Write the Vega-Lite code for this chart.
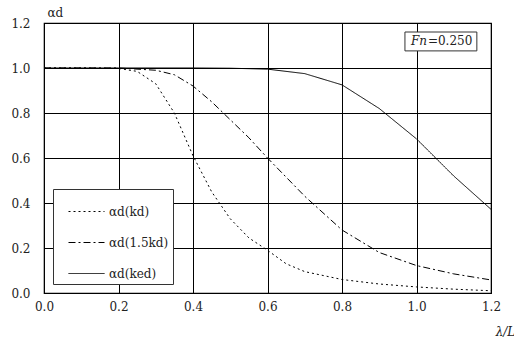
{
  "$schema": "https://vega.github.io/schema/vega-lite/v6.json",
  "width": 447,
  "height": 270,
  "autosize": {"type": "none"},
  "padding": {"left": 44, "top": 23, "right": 23, "bottom": 50},
  "background": "white",
  "config": {
    "font": "DejaVu Serif",
    "view": {"stroke": "black", "strokeWidth": 1.2},
    "axis": {
      "gridColor": "black", "gridOpacity": 1, "gridWidth": 1,
      "domain": false, "ticks": false, "labelFlush": false,
      "labelFont": "DejaVu Serif", "labelFontSize": 12, "labelColor": "#222",
      "titleFont": "DejaVu Serif", "titleFontWeight": "normal", "titleFontSize": 12, "titleColor": "#222"
    }
  },
  "data": {"values": [
    {"x": 0.0, "y": 1.0, "s": "kd"}, {"x": 0.1, "y": 1.0, "s": "kd"}, {"x": 0.2, "y": 0.998, "s": "kd"},
    {"x": 0.25, "y": 0.985, "s": "kd"}, {"x": 0.3, "y": 0.93, "s": "kd"}, {"x": 0.35, "y": 0.8, "s": "kd"},
    {"x": 0.4, "y": 0.61, "s": "kd"}, {"x": 0.45, "y": 0.45, "s": "kd"}, {"x": 0.5, "y": 0.33, "s": "kd"},
    {"x": 0.55, "y": 0.245, "s": "kd"}, {"x": 0.6, "y": 0.19, "s": "kd"}, {"x": 0.65, "y": 0.13, "s": "kd"},
    {"x": 0.7, "y": 0.095, "s": "kd"}, {"x": 0.8, "y": 0.06, "s": "kd"}, {"x": 0.9, "y": 0.04, "s": "kd"},
    {"x": 1.0, "y": 0.027, "s": "kd"}, {"x": 1.1, "y": 0.017, "s": "kd"}, {"x": 1.2, "y": 0.01, "s": "kd"},
    {"x": 0.0, "y": 1.0, "s": "1.5kd"}, {"x": 0.1, "y": 1.0, "s": "1.5kd"}, {"x": 0.2, "y": 1.0, "s": "1.5kd"},
    {"x": 0.3, "y": 0.99, "s": "1.5kd"}, {"x": 0.35, "y": 0.97, "s": "1.5kd"}, {"x": 0.4, "y": 0.92, "s": "1.5kd"},
    {"x": 0.45, "y": 0.85, "s": "1.5kd"}, {"x": 0.5, "y": 0.77, "s": "1.5kd"}, {"x": 0.55, "y": 0.69, "s": "1.5kd"},
    {"x": 0.6, "y": 0.6, "s": "1.5kd"}, {"x": 0.7, "y": 0.43, "s": "1.5kd"}, {"x": 0.8, "y": 0.28, "s": "1.5kd"},
    {"x": 0.9, "y": 0.18, "s": "1.5kd"}, {"x": 1.0, "y": 0.122, "s": "1.5kd"}, {"x": 1.1, "y": 0.085, "s": "1.5kd"},
    {"x": 1.2, "y": 0.058, "s": "1.5kd"},
    {"x": 0.0, "y": 1.0, "s": "ked"}, {"x": 0.2, "y": 1.0, "s": "ked"}, {"x": 0.4, "y": 1.0, "s": "ked"},
    {"x": 0.5, "y": 0.999, "s": "ked"}, {"x": 0.6, "y": 0.995, "s": "ked"}, {"x": 0.7, "y": 0.975, "s": "ked"},
    {"x": 0.8, "y": 0.925, "s": "ked"}, {"x": 0.9, "y": 0.82, "s": "ked"}, {"x": 1.0, "y": 0.685, "s": "ked"},
    {"x": 1.1, "y": 0.52, "s": "ked"}, {"x": 1.2, "y": 0.372, "s": "ked"}
  ]},
  "layer": [
    {
      "mark": {"type": "line", "color": "black", "strokeWidth": 1},
      "encoding": {
        "x": {"field": "x", "type": "quantitative", "scale": {"domain": [0, 1.2], "nice": false},
          "axis": {"values": [0, 0.2, 0.4, 0.6, 0.8, 1.0, 1.2], "format": ".1f", "labelPadding": 8,
            "title": "λ/L", "titleFontStyle": "italic", "titleX": 461, "titleY": 33, "titleAlign": "center"}},
        "y": {"field": "y", "type": "quantitative", "scale": {"domain": [0, 1.2], "nice": false},
          "axis": {"values": [0, 0.2, 0.4, 0.6, 0.8, 1.0, 1.2], "format": ".1f", "labelPadding": 14,
            "title": "αd", "titleAngle": 0, "titleX": 3, "titleY": -11, "titleAlign": "left", "titleBaseline": "middle"}},
        "strokeDash": {"field": "s", "type": "nominal",
          "scale": {"domain": ["kd", "1.5kd", "ked"], "range": [[2, 3], [7, 3, 2, 3], [1, 0]]},
          "legend": {"title": null, "orient": "none", "legendX": 9, "legendY": 166,
            "labelExpr": "'αd(' + datum.label + ')\u2007\u2007'",
            "symbolType": "stroke", "symbolSize": 1296, "symbolStrokeColor": "black", "symbolStrokeWidth": 1,
            "symbolOffset": 11, "labelOffset": 4,
            "labelFont": "DejaVu Serif", "labelFontSize": 12, "labelColor": "#222",
            "fillColor": "white", "strokeColor": "#333", "padding": 4, "rowPadding": 6}}
      }
    },
    {
      "data": {"values": [{}]},
      "mark": {"type": "rect", "fill": "white", "stroke": "#333", "strokeWidth": 1},
      "encoding": {"x": {"datum": 0.969}, "x2": {"datum": 1.162}, "y": {"datum": 1.16}, "y2": {"datum": 1.076}}
    },
    {
      "data": {"values": [{}]},
      "mark": {"type": "text", "fontStyle": "italic", "fontSize": 12, "align": "left", "baseline": "middle", "color": "#222"},
      "encoding": {"x": {"datum": 0.985}, "y": {"datum": 1.118}, "text": {"value": "Fn"}}
    },
    {
      "data": {"values": [{}]},
      "mark": {"type": "text", "fontSize": 12, "align": "left", "baseline": "middle", "dx": 17, "color": "#222"},
      "encoding": {"x": {"datum": 0.985}, "y": {"datum": 1.118}, "text": {"value": "=0.250"}}
    }
  ]
}
